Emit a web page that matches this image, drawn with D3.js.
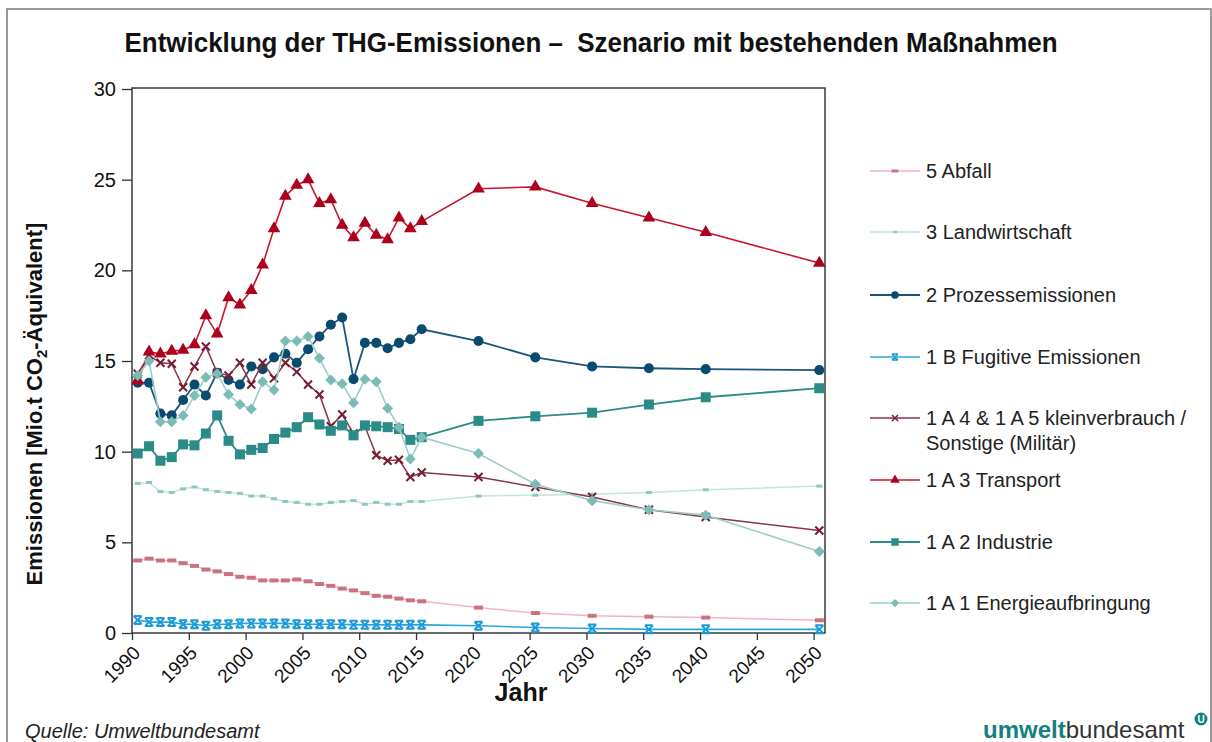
<!DOCTYPE html>
<html>
<head>
<meta charset="utf-8">
<script src="https://cdn.jsdelivr.net/npm/d3@7"></script>
<style>
  body { margin: 0; background: #fff; }
  svg { display: block; font-family: "Liberation Sans", Arial, sans-serif; }
</style>
</head>
<body>
<div id="chart"></div>
<script>
// Data (Mio. t CO2-Äquivalent)
var years = [1990, 1991, 1992, 1993, 1994, 1995, 1996, 1997, 1998, 1999,
  2000, 2001, 2002, 2003, 2004, 2005, 2006, 2007, 2008, 2009,
  2010, 2011, 2012, 2013, 2014, 2015, 2020, 2025, 2030, 2035, 2040, 2050]

var abfall = [4.0, 4.1, 4.0, 4.0, 3.85, 3.7, 3.5, 3.4, 3.25, 3.1,
  3.05, 2.9, 2.9, 2.9, 2.95, 2.85, 2.7, 2.6, 2.45, 2.35,
  2.2, 2.05, 2.0, 1.9, 1.8, 1.75, 1.4, 1.1, 0.95, 0.9, 0.85, 0.7]

var landwirtschaft = [8.25, 8.3, 7.8, 7.75, 7.95, 8.05, 7.9, 7.8, 7.75, 7.7,
  7.55, 7.55, 7.4, 7.25, 7.2, 7.1, 7.1, 7.2, 7.25, 7.3,
  7.1, 7.2, 7.1, 7.1, 7.25, 7.25, 7.55, 7.6, 7.65, 7.75, 7.9, 8.1]

var prozess = [13.8, 13.8, 12.1, 12.0, 12.85, 13.7, 13.1, 14.35, 13.95, 13.7,
  14.7, 14.55, 15.2, 15.4, 14.9, 15.65, 16.35, 17.0, 17.4, 14.0,
  16.0, 16.0, 15.7, 16.0, 16.2, 16.75, 16.1, 15.2, 14.7, 14.6, 14.55, 14.5]

var fugitive = [0.72, 0.6, 0.6, 0.6, 0.48, 0.48, 0.4, 0.48, 0.48, 0.53,
  0.53, 0.53, 0.53, 0.53, 0.48, 0.48, 0.48, 0.48, 0.48, 0.45,
  0.45, 0.45, 0.45, 0.45, 0.45, 0.45, 0.4, 0.3, 0.25, 0.2, 0.2, 0.2]

var kleinverbrauch = [14.3, 15.3, 14.9, 14.85, 13.55, 14.7, 15.8, 14.35, 14.2, 14.9,
  13.7, 14.9, 14.05, 14.9, 14.4, 13.7, 13.15, 11.4, 12.05, 11.0,
  11.4, 9.8, 9.5, 9.55, 8.6, 8.85, 8.6, 8.05, 7.5, 6.8, 6.4, 5.65]

var transport = [13.9, 15.5, 15.4, 15.55, 15.6, 15.9, 17.5, 16.5, 18.5, 18.1,
  18.9, 20.3, 22.3, 24.1, 24.7, 25.0, 23.7, 23.9, 22.5, 21.8,
  22.6, 21.95, 21.7, 22.9, 22.3, 22.7, 24.5, 24.6, 23.7, 22.9, 22.1, 20.4]

var industrie = [9.9, 10.3, 9.5, 9.7, 10.4, 10.35, 11.0, 12.0, 10.6, 9.85,
  10.1, 10.2, 10.7, 11.05, 11.35, 11.9, 11.5, 11.15, 11.45, 10.9,
  11.45, 11.4, 11.35, 11.25, 10.65, 10.8, 11.7, 11.95, 12.15, 12.6, 13.0, 13.5]

var energie = [14.2, 15.0, 11.65, 11.65, 12.0, 13.1, 14.1, 14.3, 13.15, 12.6,
  12.35, 13.85, 13.4, 16.1, 16.1, 16.35, 15.15, 13.95, 13.75, 12.7,
  14.0, 13.85, 12.4, 11.35, 9.6, 10.8, 9.9, 8.2, 7.3, 6.8, 6.5, 4.5]

var xTicks = [1990, 1995, 2000, 2005, 2010, 2015, 2020, 2025, 2030, 2035, 2040, 2045, 2050]
var yTicks = [0, 5, 10, 15, 20, 25, 30]

var width = 1212
var height = 742
var plot = { left: 132, right: 825, top: 88, bottom: 633 }

// custom marker shapes
var dashWide = "M-4.5,-2H4.5V2H-4.5Z"
var dashSmall = "M-3,-1.5H3V1.5H-3Z"
var fugitiveMark = "M-4,-4L4,4M4,-4L-4,4M-4,-4H4M-4,4H4"
var crossMark = "M-4,-4L4,4M4,-4L-4,4"

var series = [
  { name: ["5 Abfall"], values: abfall, line: "#f4b3bf", lw: 1.5, mark: dashWide, fill: "#c9747c", stroke: "none" },
  { name: ["3 Landwirtschaft"], values: landwirtschaft, line: "#c2e4e0", lw: 1.5, mark: dashSmall, fill: "#8cc8c1", stroke: "none" },
  { name: ["2 Prozessemissionen"], values: prozess, line: "#1d5579", lw: 1.8, mark: d3.symbol(d3.symbolCircle, 80)(), fill: "#0b4a6f", stroke: "none" },
  { name: ["1 B Fugitive Emissionen"], values: fugitive, line: "#27a6df", lw: 1.6, mark: fugitiveMark, fill: "none", stroke: "#1b9ad6" },
  { name: ["1 A 4 & 1 A 5 kleinverbrauch /", "Sonstige (Militär)"], values: kleinverbrauch, line: "#8a3448", lw: 1.5, mark: crossMark, fill: "none", stroke: "#761c33" },
  { name: ["1 A 3 Transport"], values: transport, line: "#c8152f", lw: 1.6, mark: d3.symbol(d3.symbolTriangle, 70)(), fill: "#ad001c", stroke: "none" },
  { name: ["1 A 2 Industrie"], values: industrie, line: "#2a8b87", lw: 1.8, mark: d3.symbol(d3.symbolSquare, 100)(), fill: "#2a8b87", stroke: "none" },
  { name: ["1 A 1 Energieaufbringung"], values: energie, line: "#9bcfcb", lw: 1.6, mark: "M0,-5.5L5.5,0L0,5.5L-5.5,0Z", fill: "#7cbcb7", stroke: "none" }
]

var svg = d3.select("#chart")
  .append("svg")
  .attr("width", width)
  .attr("height", height)

// outer frame
svg.append("path")
  .attr("d", "M7,742V9H1211V742")
  .attr("fill", "none")
  .attr("stroke", "#7a7a7a")
  .attr("stroke-width", 1.5)

// Title
svg.append("text")
  .attr("x", 591)
  .attr("y", 52)
  .attr("text-anchor", "middle")
  .attr("textLength", 933)
  .attr("lengthAdjust", "spacingAndGlyphs")
  .style("white-space", "pre")
  .style("font-family", "'Liberation Sans Narrow', 'Arial Narrow', 'Liberation Sans', sans-serif")
  .style("font-weight", "bold")
  .style("font-size", "27px")
  .style("fill", "#111")
  .text("Entwicklung der THG-Emissionen –  Szenario mit bestehenden Maßnahmen")

// Scales
var xScale = d3.scaleLinear()
  .domain([1990, 2051])
  .range([plot.left, plot.right])

var yScale = d3.scaleLinear()
  .domain([0, 30])
  .range([plot.bottom, plot.top + 1])

// Y axis
var yAxis = d3.axisLeft(yScale)
  .tickValues(yTicks)
  .tickSize(10)
  .tickSizeOuter(0)
  .tickPadding(6)

var yG = svg.append("g")
  .attr("transform", `translate(${plot.left},0)`)
  .call(yAxis)
yG.select(".domain").remove()
yG.selectAll("line").attr("stroke", "#333").attr("stroke-width", 1.3)
yG.selectAll("text")
  .style("font-size", "20px")
  .style("font-family", "'Liberation Sans', Arial, sans-serif")
  .style("fill", "#111")

// X axis
var xAxis = d3.axisBottom(xScale)
  .tickValues(xTicks)
  .tickSize(7)
  .tickSizeOuter(0)
  .tickFormat(d => d)

var xG = svg.append("g")
  .attr("transform", `translate(0,${plot.bottom})`)
  .call(xAxis)
xG.select(".domain").remove()
xG.selectAll("line").attr("stroke", "#333").attr("stroke-width", 1.3)
xG.selectAll("text")
  .attr("y", 0)
  .attr("dy", 0)
  .attr("transform", "translate(9,21) rotate(-45)")
  .style("text-anchor", "end")
  .style("font-size", "19px")
  .style("font-family", "'Liberation Sans', Arial, sans-serif")
  .style("fill", "#111")

// plot area border
svg.append("rect")
  .attr("x", plot.left)
  .attr("y", plot.top)
  .attr("width", plot.right - plot.left)
  .attr("height", plot.bottom - plot.top)
  .attr("fill", "none")
  .attr("stroke", "#3a3a3a")
  .attr("stroke-width", 1.5)

// axis titles
var yLabel = svg.append("text")
  .attr("text-anchor", "middle")
  .attr("transform", `translate(42,404) rotate(-90)`)
  .style("font-weight", "bold")
  .style("font-size", "22px")
  .style("fill", "#111")
yLabel.append("tspan").text("Emissionen [Mio.t CO")
yLabel.append("tspan").attr("dy", 5).style("font-size", "15px").text("2")
yLabel.append("tspan").attr("dy", -5).text("-Äquivalent]")

svg.append("text")
  .attr("x", 521)
  .attr("y", 701)
  .attr("text-anchor", "middle")
  .style("font-weight", "bold")
  .style("font-size", "25px")
  .style("fill", "#111")
  .text("Jahr")

// lines + markers
var line = d3.line()
  .x((d, i) => xScale(years[i] + 0.5))
  .y(d => yScale(d))

var linesG = svg.append("g").attr("class", "lines")

series.forEach(function(s) {
  linesG.append("path")
    .datum(s.values)
    .attr("d", line)
    .attr("fill", "none")
    .attr("stroke", s.line)
    .attr("stroke-width", s.lw)

  linesG.append("g")
    .selectAll("path")
    .data(s.values)
    .enter()
    .append("path")
    .attr("transform", (d, i) => `translate(${xScale(years[i] + 0.5)},${yScale(d)})`)
    .attr("d", s.mark)
    .attr("fill", s.fill)
    .attr("stroke", s.stroke)
    .attr("stroke-width", 2)
})

// Legend
var legend = svg.append("g").attr("class", "legend")
var legendY = [171, 232, 295, 357, 418, 480, 542, 603]

series.forEach(function(s, i) {
  var g = legend.append("g").attr("transform", `translate(0,${legendY[i]})`)
  g.append("line")
    .attr("x1", 870).attr("x2", 920)
    .attr("stroke", s.line)
    .attr("stroke-width", s.lw)
  g.append("path")
    .attr("transform", "translate(895,0) scale(0.75)")
    .attr("d", s.mark)
    .attr("fill", s.fill)
    .attr("stroke", s.stroke)
    .attr("stroke-width", 2)
  s.name.forEach(function(t, j) {
    g.append("text")
      .attr("x", 926)
      .attr("y", 7 + j * 25)
      .style("font-size", "20px")
      .style("fill", "#222")
      .text(t)
  })
})

// source and logo
svg.append("text")
  .attr("x", 25)
  .attr("y", 738)
  .style("font-style", "italic")
  .style("font-size", "20px")
  .style("fill", "#222")
  .text("Quelle: Umweltbundesamt")

var logo = svg.append("text")
  .attr("x", 983)
  .attr("y", 738)
  .style("font-size", "24px")
  .style("font-family", "'Liberation Sans', Arial, sans-serif")
logo.append("tspan").style("font-weight", "bold").style("fill", "#13827e").text("umwelt")
logo.append("tspan").style("fill", "#333").text("bundesamt")

svg.append("circle")
  .attr("cx", 1201)
  .attr("cy", 719)
  .attr("r", 6.5)
  .attr("fill", "#13827e")
svg.append("text")
  .attr("x", 1201)
  .attr("y", 723)
  .attr("text-anchor", "middle")
  .style("font-size", "10px")
  .style("font-weight", "bold")
  .style("fill", "#fff")
  .text("U")
</script>
</body>
</html>
